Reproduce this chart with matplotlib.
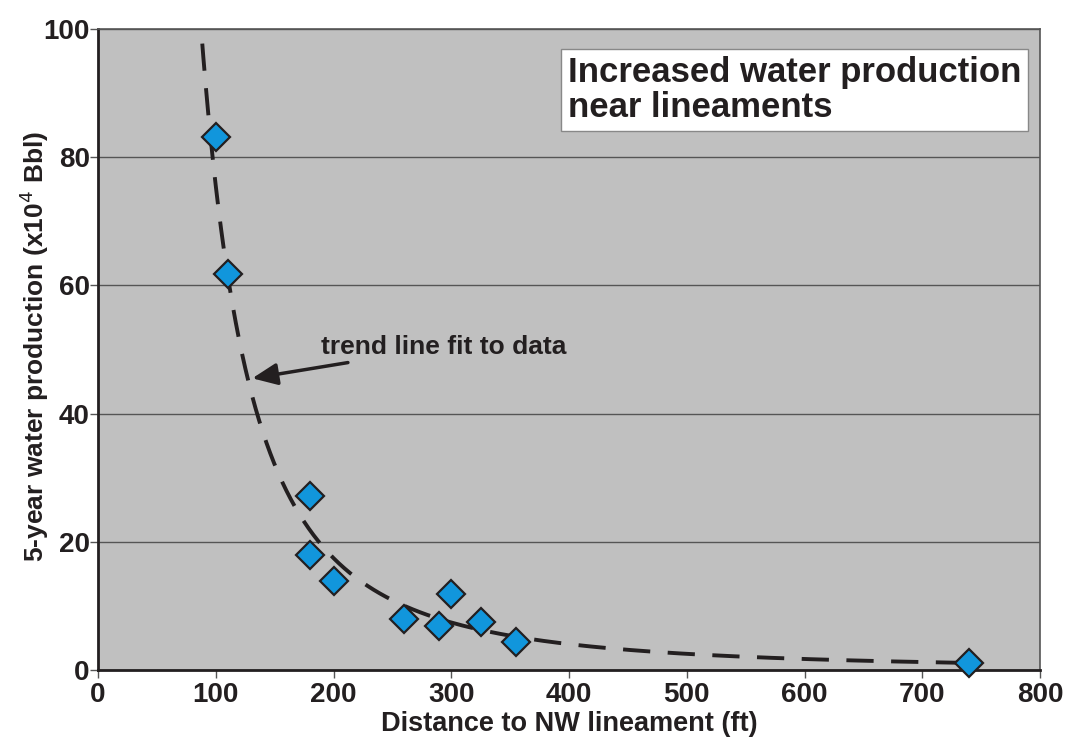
import matplotlib
matplotlib.use("Agg")
import matplotlib.pyplot as plt
import numpy as np

plt.rcParams['font.family'] = ['Liberation Sans', 'DejaVu Sans']

# well data
distance = [100, 110, 180, 180, 200, 260, 290, 300, 325, 355, 740]
water = [83.2, 61.8, 27.1, 17.9, 13.9, 8.0, 6.8, 11.9, 7.5, 4.4, 1.1]

x_ticks = [0, 100, 200, 300, 400, 500, 600, 700, 800]
y_ticks = [0, 20, 40, 60, 80, 100]

# power law trend line (least squares in log space, like Excel)
b, a = np.polyfit(np.log(distance), np.log(water), 1)
xt = np.geomspace(80, 740, 200)
yt = np.exp(a) * xt ** b

fig = plt.figure(figsize=(10.7, 7.5), dpi=100)
ax = fig.add_axes([0.0916, 0.1067, 0.8804, 0.8547])
ax.set_facecolor('#c0c0c0')

ax.plot(xt, yt, color='#231f20', lw=2.8, dashes=(7, 4.5), zorder=2)
ax.plot(distance, water, 'D', color='#1196dc', markeredgecolor='#231f20',
        markeredgewidth=1.6, markersize=14, zorder=3, clip_on=False)

ax.set_xlim(0, 800)
ax.set_ylim(0, 100)
ax.set_xticks(x_ticks)
ax.set_yticks(y_ticks)
ax.yaxis.grid(True, color='#555555', lw=1)
ax.set_axisbelow(True)
for s in ax.spines.values():
    s.set_color('#555555')
    s.set_linewidth(1.2)
ax.spines['left'].set_color('#231f20')
ax.spines['bottom'].set_color('#231f20')
ax.spines['left'].set_linewidth(2)
ax.spines['bottom'].set_linewidth(2)
ax.tick_params(direction='out', length=6, width=1, colors='#555555',
               labelcolor='#231f20', labelsize=20, pad=3)
ax.tick_params(axis='y', pad=0)
for lab in ax.get_xticklabels() + ax.get_yticklabels():
    lab.set_fontweight('bold')

ax.set_xlabel('Distance to NW lineament (ft)', fontsize=19.5, fontweight='bold',
              color='#231f20', labelpad=2)
ax.set_ylabel('5-year water production (x10$^4$ Bbl)', fontsize=19,
              fontweight='bold', color='#231f20')
ax.yaxis.set_label_coords(-0.05, 0.505)

ax.text(0.499, 0.958, 'Increased water production\nnear lineaments',
        transform=ax.transAxes, fontsize=25, fontweight='bold', color='#231f20',
        va='top', ha='left', linespacing=1.1,
        bbox=dict(boxstyle='square,pad=0.2', fc='white', ec='#888888', lw=1))

ax.annotate('trend line fit to data', xy=(131, 45.5), xytext=(189, 50.4),
            fontsize=19, fontweight='bold', color='#231f20', va='center',
            arrowprops=dict(arrowstyle='-|>,head_length=0.8,head_width=0.35',
                            color='#231f20', lw=2.5, shrinkA=4, shrinkB=0))

fig.savefig('out.png', dpi=100)
